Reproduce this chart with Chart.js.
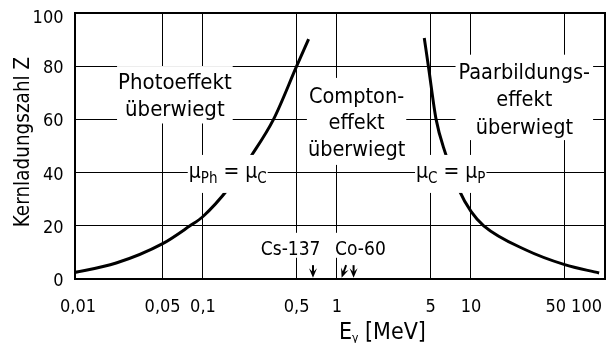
<!DOCTYPE html>
<html><head><meta charset="utf-8">
<script src="https://cdn.jsdelivr.net/npm/chart.js@4"></script>
<style>html,body{margin:0;padding:0;background:#fff}#wrap{width:612px;height:343px}</style>
</head><body><div id="wrap"><canvas id="c" width="612" height="343"></canvas></div>
<script>
const FONT = '"DejaVu Sans Condensed", "DejaVu Sans", sans-serif';

// ---- data ----
const xTickValues = [0.01, 0.05, 0.1, 0.5, 1, 5, 10, 50, 100];
const xTickLabels = ['0,01', '0,05', '0,1', '0,5', '1', '5', '10', '50', '100'];
const yTickValues = [0, 20, 40, 60, 80, 100];
const yTickLabels = ['0', '20', '40', '60', '80', '100'];

// boundary μPh = μC
const photoComptonE = [0.01, 0.0225, 0.05, 0.080, 0.1, 0.156, 0.232, 0.336, 0.5, 0.614];
const photoComptonZ = [2.0, 6.0, 13.3, 20, 23.5, 34.2, 46.7, 60, 80, 90.2];

// boundary μC = μP
const comptonPairE = [4.48, 4.81, 5.49, 6.42, 8.12, 10, 12.45, 25.5, 50, 90.4];
const comptonPairZ = [90.6, 80, 60, 47.5, 33.6, 25.4, 20, 11, 5.4, 2.25];

// gamma lines of nuclides (MeV)
const csEnergies = [0.662];
const coEnergies = [1.17, 1.33];

const xTitleMain = 'E', xTitleSub = 'γ', xTitleRest = ' [MeV]';
const yTitle = 'Kernladungszahl Z';

// ---- annotation layout ----
const blocks = [
  {lines: ['Photoeffekt', 'überwiegt'], e: 0.0617, z: 71.4, size: 22, lh: 27.4, asc: 23, desc: 7, padX: 1},
  {lines: ['Compton-', 'effekt', 'überwiegt'], e: 1.40, z: 66.2, size: 21.5, lh: 26.5, asc: 25, desc: 9, padX: 1},
  {lines: ['Paarbildungs-', 'effekt', 'überwiegt'], e: 25, z: 75.3, size: 21.5, lh: 27.7, asc: 24, desc: 6, padX: 3},
  {lines: ['Cs-137'], e: 0.451, z: 9.1, size: 19, lh: 20, asc: 22, desc: 3, padX: 2},
  {lines: ['Co-60'], e: 1.496, z: 9.1, size: 19, lh: 20, asc: 22, desc: 3, padX: 1}
];
const muLabels = [
  {segs: [['μ', 0], ['Ph', 1], [' = ', 0], ['μ', 0], ['C', 1]], e: 0.153, z: 38},
  {segs: [['μ', 0], ['C', 1], [' = ', 0], ['μ', 0], ['P', 1]], e: 7.06, z: 38}
];

const X_MIN = 0.01109, X_MAX = 100;

function arrow(ctx, x0, y0, x1, y1) {
  const ang = Math.atan2(y1 - y0, x1 - x0);
  const c = Math.cos(ang), s = Math.sin(ang);
  ctx.lineWidth = 2;
  ctx.beginPath(); ctx.moveTo(x0, y0); ctx.lineTo(x1 - 5 * c, y1 - 5 * s); ctx.stroke();
  const L = 9.5, W = 4;
  const bx = x1 - L * c, by = y1 - L * s;
  const nx = -s, ny = c;
  const mx = x1 - 5.5 * c, my = y1 - 5.5 * s;
  ctx.beginPath();
  ctx.moveTo(x1, y1);
  ctx.lineTo(bx + nx * W, by + ny * W);
  ctx.lineTo(mx, my);
  ctx.lineTo(bx - nx * W, by - ny * W);
  ctx.closePath(); ctx.fill();
}

const annot = {
  id: 'annot',
  afterDatasetsDraw(chart) {
    const ctx = chart.ctx, xs = chart.scales.x, ys = chart.scales.y, a = chart.chartArea;
    const px = v => xs.getPixelForValue(v), py = v => ys.getPixelForValue(v);
    ctx.save();
    ctx.fillStyle = '#000'; ctx.strokeStyle = '#000';

    // region text blocks with white background
    blocks.forEach(b => {
      ctx.font = b.size + 'px ' + FONT;
      const w = Math.max(...b.lines.map(l => ctx.measureText(l).width));
      const cx = px(b.e), y0 = py(b.z);
      const top = y0 - b.asc, bottom = y0 + (b.lines.length - 1) * b.lh + b.desc;
      ctx.fillStyle = '#fff';
      ctx.fillRect(cx - w / 2 - b.padX, top, w + 2 * b.padX, bottom - top);
      ctx.fillStyle = '#000';
      ctx.textAlign = 'center'; ctx.textBaseline = 'alphabetic';
      b.lines.forEach((l, i) => ctx.fillText(l, cx, y0 + i * b.lh));
    });

    // μ labels
    muLabels.forEach(m => {
      const widths = m.segs.map(([t, s]) => { ctx.font = (s ? 15 : 21) + 'px ' + FONT; return ctx.measureText(t).width; });
      const total = widths.reduce((p, q) => p + q, 0);
      const cx = px(m.e), base = py(m.z);
      ctx.fillStyle = '#fff';
      ctx.fillRect(cx - total / 2 - 1, base - 23, total + 2, 38);
      ctx.fillStyle = '#000'; ctx.textAlign = 'left'; ctx.textBaseline = 'alphabetic';
      let x = cx - total / 2;
      m.segs.forEach(([t, s], i) => {
        ctx.font = (s ? 15 : 21) + 'px ' + FONT;
        ctx.fillText(t, x, base + (s ? 5 : 0));
        x += widths[i];
      });
    });

    // arrows for nuclide lines
    const yT = py(5.2), yB = py(0.5);
    csEnergies.forEach(e => arrow(ctx, px(e), yT, px(e), yB));
    coEnergies.forEach((e, i) => {
      const x = px(e);
      if (i === 0) arrow(ctx, x, yT, x - 4.5, yB); else arrow(ctx, x, yT, x, yB);
    });

    // plot border
    ctx.lineWidth = 2;
    ctx.strokeRect(a.left, a.top, a.right - a.left, a.bottom - a.top);

    // x tick labels (kept inside the frame, no overlap)
    ctx.font = '18px ' + FONT; ctx.textBaseline = 'alphabetic'; ctx.textAlign = 'center';
    let limit = a.right - 3;
    for (let i = xTickValues.length - 1; i >= 0; i--) {
      const w = ctx.measureText(xTickLabels[i]).width;
      let x = px(xTickValues[i]);
      x = Math.max(x, a.left + 3);
      x = Math.min(x, limit - w / 2);
      ctx.fillText(xTickLabels[i], x, a.bottom + 33);
      limit = x - w / 2 - 5;
    }
    // y tick labels
    ctx.textAlign = 'right';
    yTickValues.forEach((v, i) => {
      const y = py(v) + (i === yTickValues.length - 1 ? 10 : 7);
      ctx.fillText(yTickLabels[i], a.left - 11.5, y);
    });

    // y title
    ctx.save();
    ctx.font = '20.5px ' + FONT; ctx.textAlign = 'center'; ctx.textBaseline = 'middle';
    ctx.translate(24, (a.top + a.bottom) / 2 - 4);
    ctx.rotate(-Math.PI / 2);
    ctx.fillText(yTitle, 0, 0);
    ctx.restore();

    // x title
    ctx.textAlign = 'left'; ctx.textBaseline = 'alphabetic';
    let tx = 339; const tb = 339;
    ctx.font = '23px ' + FONT; ctx.fillText(xTitleMain, tx, tb); tx += ctx.measureText(xTitleMain).width;
    ctx.font = '12px ' + FONT; ctx.fillText(xTitleSub, tx, tb + 3); tx += ctx.measureText(xTitleSub).width;
    ctx.font = '23px ' + FONT; ctx.fillText(xTitleRest, tx, tb);

    ctx.restore();
  }
};

const toXY = (xs, ys) => xs.map((x, i) => ({x: x, y: ys[i]}));

new Chart(document.getElementById('c'), {
  type: 'line',
  data: {
    datasets: [
      {data: toXY(photoComptonE, photoComptonZ), borderColor: '#000', borderWidth: 3, pointRadius: 0, cubicInterpolationMode: 'monotone', fill: false},
      {data: toXY(comptonPairE, comptonPairZ), borderColor: '#000', borderWidth: 3, pointRadius: 0, cubicInterpolationMode: 'monotone', fill: false}
    ]
  },
  options: {
    responsive: false,
    animation: false,
    devicePixelRatio: 1,
    layout: {padding: {left: 0, right: 7, top: 13, bottom: 0}},
    plugins: {legend: {display: false}, tooltip: {enabled: false}},
    scales: {
      x: {
        type: 'logarithmic', min: X_MIN, max: X_MAX,
        afterBuildTicks: s => { s.ticks = xTickValues.filter(v => v >= X_MIN && v <= X_MAX).map(v => ({value: v})); },
        afterFit: s => { s.height = 64; s.paddingLeft = 0; s.paddingRight = 0; },
        ticks: {display: false},
        grid: {color: '#000', lineWidth: 1, drawTicks: false, tickLength: 0},
        border: {display: false}
      },
      y: {
        type: 'linear', min: 0, max: 100,
        afterBuildTicks: s => { s.ticks = yTickValues.map(v => ({value: v})); },
        afterFit: s => { s.width = 75; s.paddingTop = 0; s.paddingBottom = 0; },
        ticks: {display: false},
        grid: {color: '#000', lineWidth: 1, drawTicks: false, tickLength: 0},
        border: {display: false}
      }
    }
  },
  plugins: [annot]
});
</script>
</body></html>
